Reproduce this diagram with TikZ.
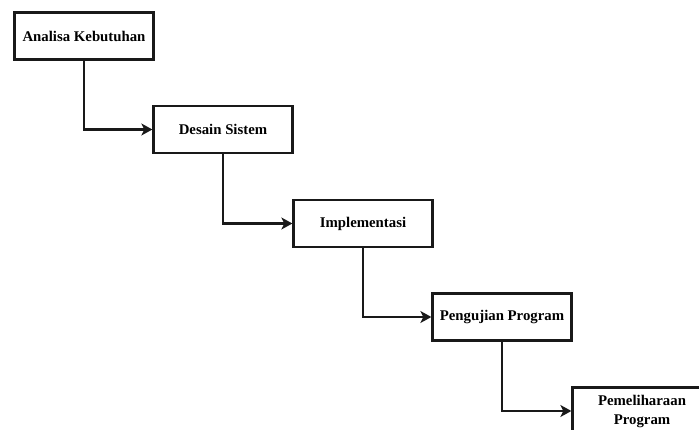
\documentclass[tikz,border=0pt]{standalone}
\usepackage{fontspec}
\setmainfont{Liberation Serif}
\usetikzlibrary{arrows.meta}
\begin{document}
\begin{tikzpicture}[x=1pt,y=-1pt,
  stepbox/.style={draw=black!90,line width=2.3pt,fill=white,minimum width=139pt,minimum height=47pt,inner sep=2pt,align=center,font=\bfseries\fontsize{14.8}{19}\selectfont},
  conn/.style={draw=black!90,line width=2.3pt,-{Stealth[length=11pt,width=12pt,inset=3pt]}}]
\useasboundingbox (0,0) rectangle (699,430);
\clip (0,0) rectangle (699,430);
\fill[white] (0,0) rectangle (699,430);
\node[stepbox] (a) at (84,36) {Analisa Kebutuhan};
\node[stepbox] (b) at (223,129.5) {Desain Sistem};
\node[stepbox] (c) at (363,223.5) {Implementasi};
\node[stepbox] (d) at (502,317) {Pengujian Program};
\node[stepbox] (e) at (642,411) {Pemeliharaan\\Program};
\draw[conn] (a.south) |- (b.west);
\draw[conn] (b.south) |- (c.west);
\draw[conn] (c.south) |- (d.west);
\draw[conn] (d.south) |- (e.west);
\end{tikzpicture}
\end{document}
